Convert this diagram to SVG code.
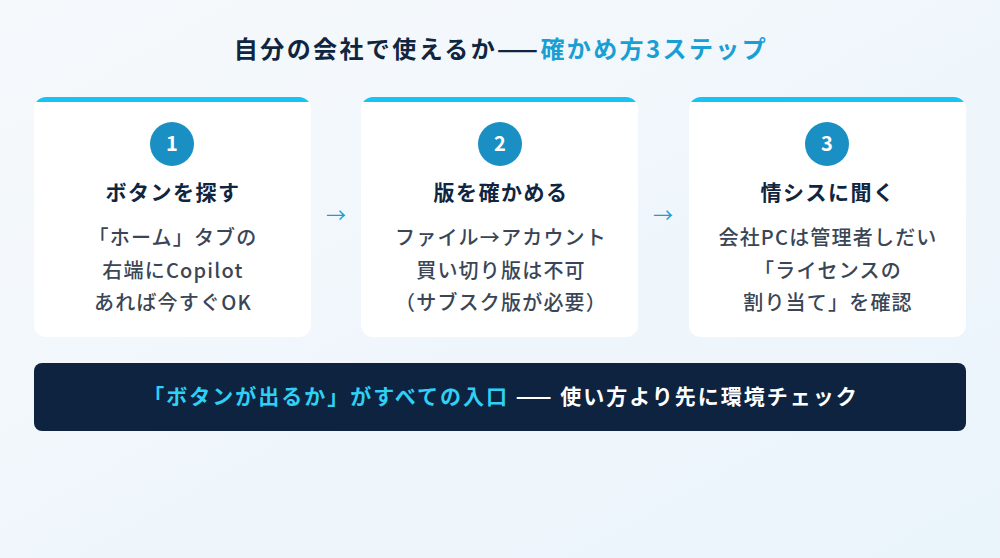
<svg xmlns="http://www.w3.org/2000/svg" width="1000" height="558" viewBox="0 0 1000 558">
<defs>
<linearGradient id="bg" x1="0" y1="0" x2="1" y2="1"><stop offset="0" stop-color="#f6f9fc"/><stop offset="1" stop-color="#eaf4fb"/></linearGradient>
<clipPath id="c1"><rect x="34" y="97" width="277" height="240" rx="12"/></clipPath>
<clipPath id="c2"><rect x="361" y="97" width="277" height="240" rx="12"/></clipPath>
<clipPath id="c3"><rect x="689" y="97" width="277" height="240" rx="12"/></clipPath>
</defs>
<style>
text{font-family:"Noto Sans CJK JP","Noto Sans",sans-serif;text-anchor:middle}
.t{font-size:24px;font-weight:700;fill:#0f2540;letter-spacing:2.4px}
.h{font-size:21px;font-weight:700;fill:#0f2540;letter-spacing:1.5px}
.b{font-size:20px;font-weight:500;fill:#3a4656;letter-spacing:1.2px}
.n{font-size:20px;font-weight:700;fill:#fff}
.card{fill:#fff}
.bar{fill:#17c3f0}
.num{fill:#1a8fc4}
.arr{font-size:20px;fill:#1a9fd4}
</style>
<rect width="1000" height="558" fill="url(#bg)"/>
<text class="t" x="501" y="58">自分の会社で使えるか——<tspan fill="#1a9fd4">確かめ方3ステップ</tspan></text>
<g id="step1">
<rect class="card" x="34" y="97" width="277" height="240" rx="12"/>
<rect class="bar" x="34" y="97" width="277" height="5" clip-path="url(#c1)"/>
<circle class="num" cx="172" cy="144" r="22"/><text class="n" x="172" y="151">1</text>
<text class="h" x="173" y="200">ボタンを探す</text>
<text class="b" x="173" y="245">「ホーム」タブの</text>
<text class="b" x="173" y="278">右端にCopilot</text>
<text class="b" x="173" y="310">あれば今すぐOK</text>
</g>
<g id="step2">
<rect class="card" x="361" y="97" width="277" height="240" rx="12"/>
<rect class="bar" x="361" y="97" width="277" height="5" clip-path="url(#c2)"/>
<circle class="num" cx="500" cy="144" r="22"/><text class="n" x="500" y="151">2</text>
<text class="h" x="501" y="200">版を確かめる</text>
<text class="b" x="501" y="245">ファイル→アカウント</text>
<text class="b" x="501" y="278">買い切り版は不可</text>
<text class="b" x="501" y="310">（サブスク版が必要）</text>
</g>
<g id="step3">
<rect class="card" x="689" y="97" width="277" height="240" rx="12"/>
<rect class="bar" x="689" y="97" width="277" height="5" clip-path="url(#c3)"/>
<circle class="num" cx="827" cy="144" r="22"/><text class="n" x="827" y="151">3</text>
<text class="h" x="828" y="200">情シスに聞く</text>
<text class="b" x="828" y="245">会社PCは管理者しだい</text>
<text class="b" x="828" y="278">「ライセンスの</text>
<text class="b" x="828" y="310">割り当て」を確認</text>
</g>
<g id="connectors">
<text class="arr" x="336" y="223">→</text>
<text class="arr" x="663" y="223">→</text>
</g>
<g id="banner">
<rect x="34" y="363" width="932" height="68" rx="8" fill="#0d2340"/>
<text x="501" y="404" style="font-size:21px;font-weight:700;fill:#fff;letter-spacing:2px"><tspan fill="#2fd0f5">「ボタンが出るか」がすべての入口</tspan> —— 使い方より先に環境チェック</text>
</g>
</svg>
